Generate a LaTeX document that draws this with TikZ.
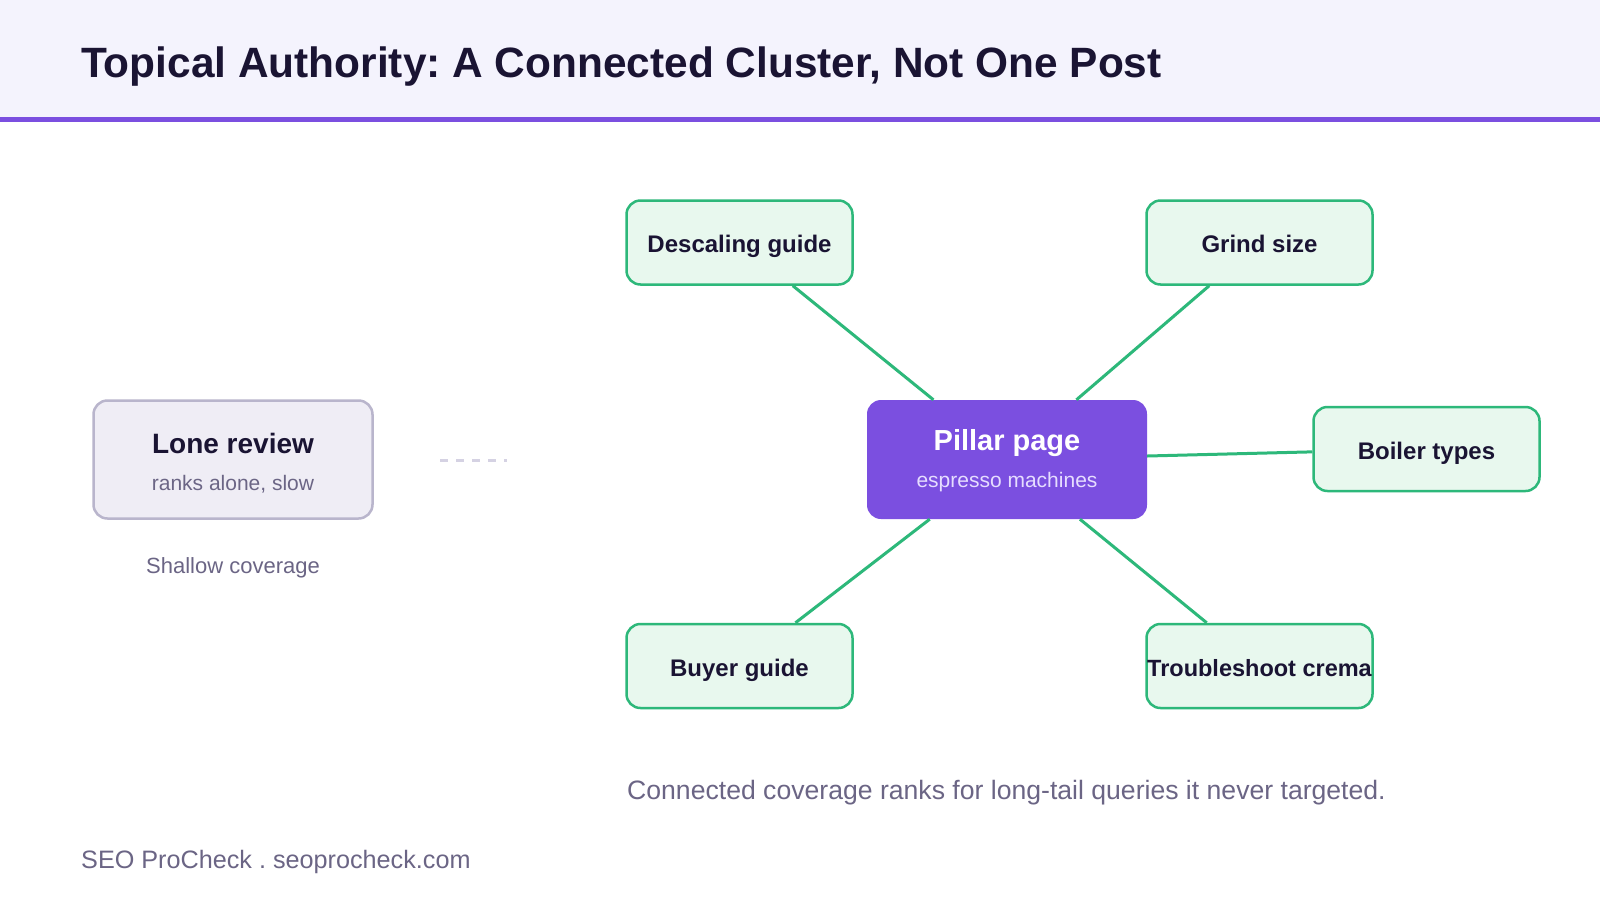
\documentclass[tikz,border=0pt]{standalone}
\usepackage{fontspec}
\setmainfont{Liberation Sans}
\frenchspacing
\definecolor{ink}{HTML}{1A1433}
\definecolor{muted}{HTML}{6B6585}
\definecolor{headbg}{HTML}{F4F3FD}
\definecolor{purp}{HTML}{7B4FE0}
\definecolor{lonefill}{HTML}{EFEDF5}
\definecolor{lonedraw}{HTML}{B9B5CC}
\definecolor{leaffill}{HTML}{E8F8EE}
\definecolor{leafdraw}{HTML}{2DB87A}
\definecolor{pilltext}{HTML}{E6DDFF}
\definecolor{dashcol}{HTML}{D5D2E3}
\tikzset{
  leaf/.style={draw=leafdraw, fill=leaffill, line width=2.5pt, rounded corners=14pt,
    minimum width=226pt, minimum height=84pt, inner sep=0pt, text=ink,
    font=\fontsize{24}{28}\selectfont\bfseries, text height=20.5pt, text depth=0pt},
  conn/.style={draw=leafdraw, line width=3pt},
  txt/.style={anchor=base, inner sep=0pt},
}
\begin{document}
\begin{tikzpicture}[x=1pt,y=-1pt]
\useasboundingbox (0,0) rectangle (1600,900);
\fill[white] (0,0) rectangle (1600,900);
\fill[headbg] (0,0) rectangle (1600,117);
\fill[purp] (0,117) rectangle (1600,122);
\node[txt, anchor=base west, text=ink, font=\fontsize{42.4}{50}\selectfont\bfseries] (title) at (81,77) {Topical Authority: A Connected Cluster, Not One Post};

% lone review
\node[draw=lonedraw, fill=lonefill, line width=2.5pt, rounded corners=14pt, minimum width=279pt, minimum height=118pt, inner sep=0pt] (lone) at (233,459.5) {};
\node[txt, text=ink, font=\fontsize{28}{32}\selectfont\bfseries] (lonet) at (233,453) {Lone review};
\node[txt, text=muted, font=\fontsize{21}{25}\selectfont] (lones) at (233,490) {ranks alone, slow};
\node[txt, text=muted, font=\fontsize{22}{26}\selectfont] (shallow) at (233,573) {Shallow coverage};
\coordinate (d1) at (440,460);
\coordinate (d2) at (507,460);
\draw[dashcol, line width=3pt, dash pattern=on 8pt off 8pt] (d1) -- (d2);

% pillar
\node[fill=purp, rounded corners=14pt, minimum width=280pt, minimum height=119pt, inner sep=0pt] (pillar) at (1007,459.5) {};
\node[txt, text=white, font=\fontsize{29}{34}\selectfont\bfseries] (pillt) at (1007,450) {Pillar page};
\node[txt, text=pilltext, font=\fontsize{21}{25}\selectfont] (pills) at (1007,487) {espresso machines};

% leaves
\node[leaf] (desc) at (739.5,242.5) {Descaling guide};
\node[leaf] (grind) at (1259.5,242.5) {Grind size};
\node[leaf] (boiler) at (1426.5,449) {Boiler types};
\node[leaf] (buyer) at (739.5,666) {Buyer guide};
\node[leaf, font=\fontsize{23.5}{28}\selectfont\bfseries] (trouble) at (1259.5,666) {Troubleshoot crema};

\draw[conn] (pillar) -- (desc);
\draw[conn] (pillar) -- (grind);
\draw[conn] (pillar) -- (boiler);
\draw[conn] (pillar) -- (buyer);
\draw[conn] (pillar) -- (trouble);

\node[txt, anchor=base west, text=muted, font=\fontsize{26.6}{31}\selectfont] (caption) at (627,799) {Connected coverage ranks for long-tail queries it never targeted.};
\node[txt, anchor=base west, text=muted, font=\fontsize{25.2}{29}\selectfont] (footer) at (81,868) {SEO ProCheck . seoprocheck.com};
\end{tikzpicture}
\end{document}
